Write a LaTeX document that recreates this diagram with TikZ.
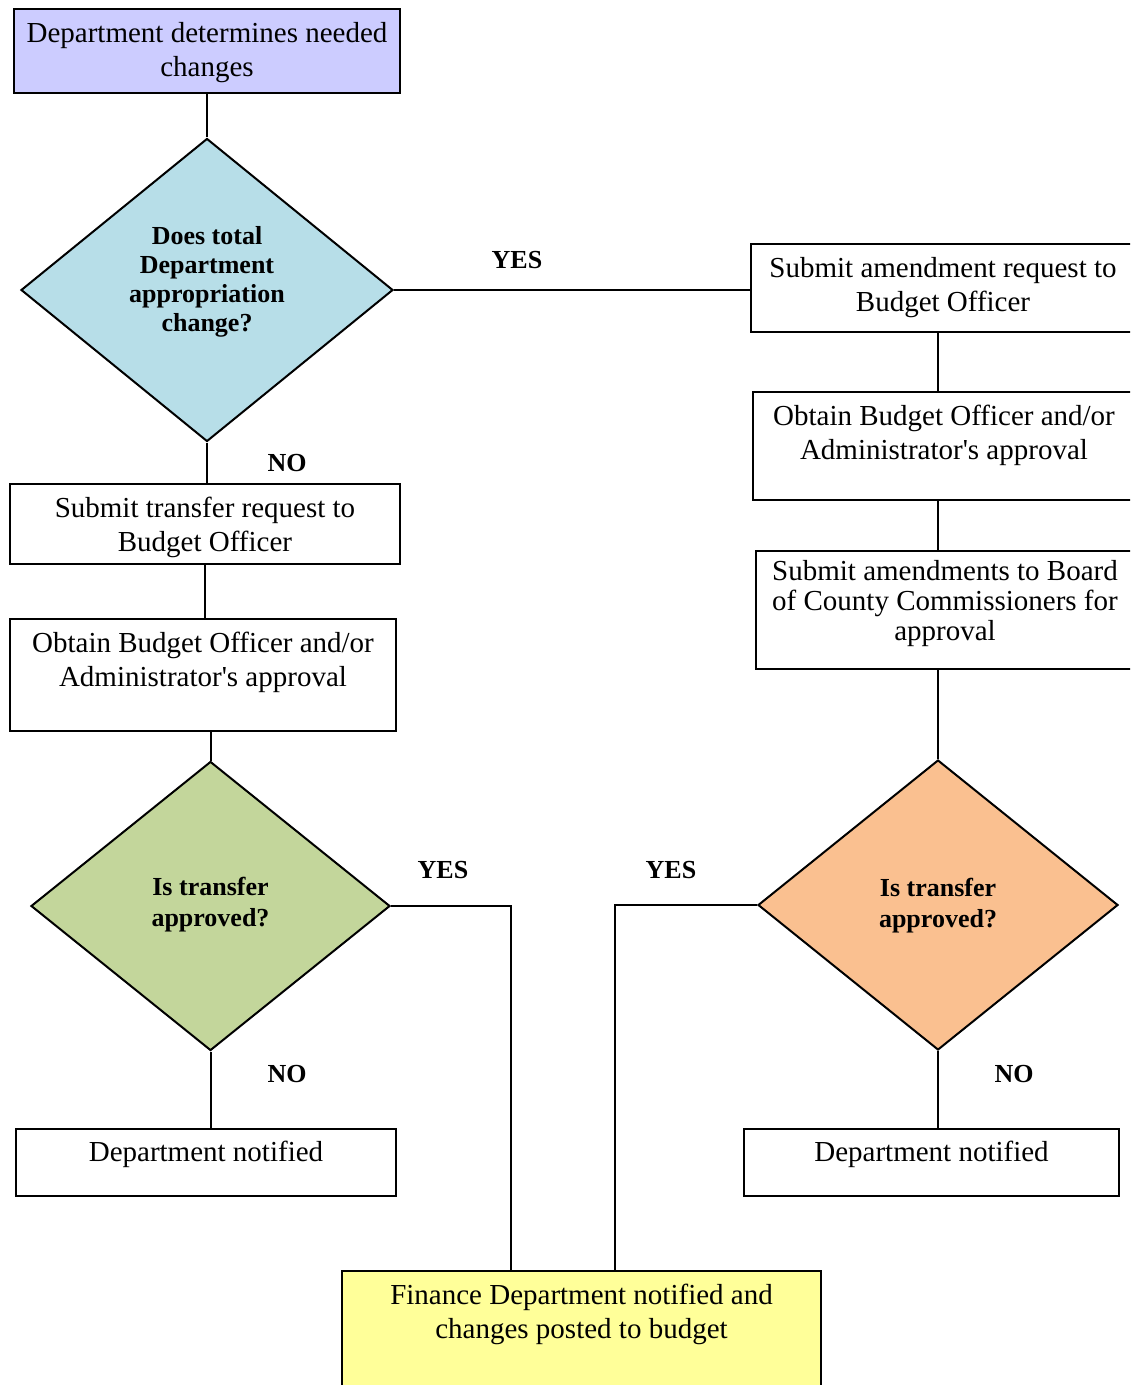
\documentclass[tikz,border=0pt]{standalone}
\usepackage{fontspec}
\setmainfont{Liberation Serif}
\usepackage{tikz}
\usetikzlibrary{shapes.geometric, calc}

\definecolor{lavender}{HTML}{CCCCFF}
\definecolor{paleblue}{HTML}{B7DEE8}
\definecolor{palegreen}{HTML}{C3D69B}
\definecolor{paleorange}{HTML}{FAC090}
\definecolor{paleyellow}{HTML}{FFFF99}

\begin{document}
\begin{tikzpicture}[x=0.5pt, y=-0.5pt,
  box/.style={draw, line width=1pt, anchor=north, align=center, inner xsep=3pt, inner ysep=5pt,
    font={\fontsize{14.5}{17}\selectfont}, text height=28.9pt},
  choice/.style={diamond, draw, line width=1pt, align=center, inner sep=0pt,
    font={\fontsize{13}{15.5}\selectfont\bfseries}, text height=24.3pt},
  answer/.style={font={\fontsize{13}{15.5}\selectfont\bfseries}, inner sep=0pt},
  link/.style={line width=1pt}]
  \useasboundingbox (0,0) rectangle (1130,1385);
  \clip (0,0) rectangle (1130,1385);

  % Start
  \node[box, fill=lavender, minimum width=193pt, text depth=3.1pt] (need) at (207,8)
    {Department determines needed\\changes};

  % First decision
  \node[choice, fill=paleblue, minimum width=186pt, minimum height=151.5pt,
    text height=52.3pt, text depth=10.5pt,
    font={\fontsize{13}{14.5}\selectfont\bfseries}] (total) at (207,290)
    {Does total\\Department\\appropriation\\change?};

  % Amendment branch (right)
  \node[box, minimum width=192pt, text depth=5.1pt] (amend) at (943,243)
    {Submit amendment request to\\Budget Officer};
  \node[box, minimum width=191pt, text depth=15.1pt] (okR) at (944,391)
    {Obtain Budget Officer and/or\\Administrator\textquotesingle s approval};
  \node[box, minimum width=189pt, text height=39.5pt, text depth=9.5pt,
    font={\fontsize{14.5}{14.8}\selectfont}] (board) at (945,550)
    {Submit amendments to Board\\of County Commissioners for\\approval};
  \node[choice, fill=paleorange, minimum width=180pt, minimum height=145pt, text depth=1.5pt] (approvR) at (938,905)
    {Is transfer\\approved?};
  \node[box, minimum width=187.5pt, text height=11.4pt, text depth=12.1pt] (toldR) at (931.5,1128)
    {Department notified};

  % Transfer branch (left)
  \node[box, minimum width=195pt, text depth=1.1pt] (transfer) at (205,483)
    {Submit transfer request to\\Budget Officer};
  \node[box, minimum width=193pt, text depth=17.1pt] (okL) at (203,618)
    {Obtain Budget Officer and/or\\Administrator\textquotesingle s approval};
  \node[choice, fill=palegreen, minimum width=179.5pt, minimum height=144.5pt, text depth=3.5pt] (approvL) at (210.5,906)
    {Is transfer\\approved?};
  \node[box, minimum width=190pt, text height=11.4pt, text depth=12.1pt] (toldL) at (206,1128)
    {Department notified};

  % Finish
  \node[box, fill=paleyellow, minimum width=239.5pt, text depth=36.1pt] (posted) at (581.5,1270)
    {Finance Department notified and\\changes posted to budget};

  % Answers
  \node[answer] (yesTotal) at (517,260) {YES};
  \node[answer] (noTotal) at (287,463) {NO};
  \node[answer] (yesL) at (443,870) {YES};
  \node[answer] (noL) at (287,1074) {NO};
  \node[answer] (yesR) at (671,870) {YES};
  \node[answer] (noR) at (1014,1074) {NO};

  % Connectors
  \draw[link] (need.south) -- (total.north);
  \draw[link] (total.east) -- (total.east -| amend.west);
  \draw[link] (amend.south -| approvR.north) -- (okR.north -| approvR.north);
  \draw[link] (okR.south -| approvR.north) -- (board.north -| approvR.north);
  \draw[link] (board.south -| approvR.north) -- (approvR.north);
  \draw[link] (approvR.south) -- (approvR.south |- toldR.north);
  \coordinate (bendR) at (615,906);
  \draw[link] (approvR.west) -| (bendR |- posted.north);

  \draw[link] (total.south) -- (total.south |- transfer.north);
  \draw[link] (transfer.south) -- (transfer.south |- okL.north);
  \draw[link] (approvL.north |- okL.south) -- (approvL.north);
  \draw[link] (approvL.south) -- (approvL.south |- toldL.north);
  \coordinate (bendL) at (511,906);
  \draw[link] (approvL.east) -| (bendL |- posted.north);
\end{tikzpicture}
\end{document}
